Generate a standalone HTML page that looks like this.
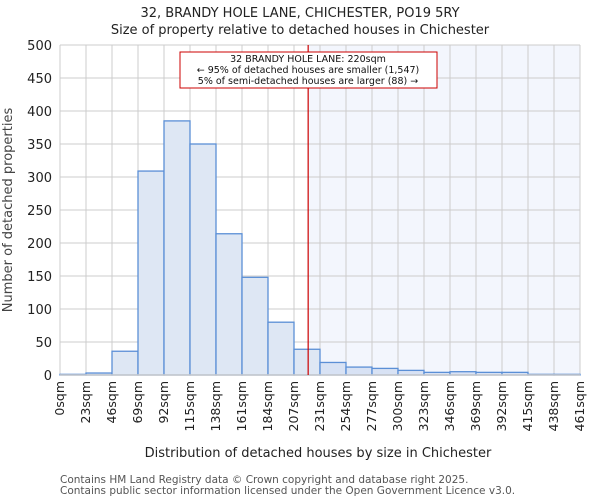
<!DOCTYPE html>
<html><head><meta charset="utf-8"><style>
body{margin:0;background:#fff;font-family:"DejaVu Sans","Liberation Sans",sans-serif}
</style></head><body>
<svg width="600" height="500" xmlns="http://www.w3.org/2000/svg" style="font-family:'DejaVu Sans','Liberation Sans',sans-serif">
<text x="300" y="17" text-anchor="middle" font-size="13" fill="#222">32, BRANDY HOLE LANE, CHICHESTER, PO19 5RY</text>
<text x="300" y="34" text-anchor="middle" font-size="13" fill="#222">Size of property relative to detached houses in Chichester</text>
<g id="plot"></g>
<text x="318" y="457" text-anchor="middle" font-size="13" fill="#222">Distribution of detached houses by size in Chichester</text>
<text transform="translate(12,210) rotate(-90)" text-anchor="middle" font-size="13" fill="#444">Number of detached properties</text>
<text x="60" y="483" font-size="10.5" fill="#555">Contains HM Land Registry data © Crown copyright and database right 2025.</text>
<text x="60" y="494" font-size="10.5" fill="#555">Contains public sector information licensed under the Open Government Licence v3.0.</text>
</svg>
<script>
const binEdges=[0,23,46,69,92,115,138,161,184,207,231,254,277,300,323,346,369,392,415,438,461];
const counts=[1,3,36,309,385,350,214,148,80,39,19,12,10,7,4,5,4,4,1,1];
const yTicks=[0,50,100,150,200,250,300,350,400,450,500];
const propertySize=220;
const xMax=461, yMax=500;
const L=60,R=580,T=45,B=375;
const NS="http://www.w3.org/2000/svg";
const g=document.getElementById('plot');
const xs=v=>L+v/xMax*(R-L);
const ys=v=>B-v/yMax*(B-T);
function mk(t,a){const e=document.createElementNS(NS,t);for(const k in a)e.setAttribute(k,a[k]);g.appendChild(e);return e;}
const bg=mk('rect',{x:xs(propertySize),y:T,width:R-xs(propertySize),height:B-T,fill:'#f3f6fd'});


yTicks.forEach(v=>{
 const l=mk('line',{x1:L,x2:R,y1:ys(v),y2:ys(v),stroke:'#ccc','stroke-width':1});
 
 
 const t=mk('text',{x:L-8,y:ys(v)+5,'text-anchor':'end','font-size':13,fill:'#222'});
 t.textContent=v;
 
 
});
binEdges.forEach((v,i)=>{
 const x=L+i*(R-L)/(binEdges.length-1);
 const l=mk('line',{x1:x,x2:x,y1:T,y2:B,stroke:'#ccc','stroke-width':1});
 
 
 const t=mk('text',{transform:`translate(${x+4},${B+6}) rotate(-90)`,'text-anchor':'end','font-size':12.5,fill:'#222'});
 t.textContent=v+'sqm';
 
 
});
counts.forEach((c,i)=>{
 const w=(R-L)/counts.length;
 const x=L+i*w;
 const r=mk('rect',{x:x,y:ys(c),width:w,height:B-ys(c),fill:binEdges[i]>=propertySize-10?'#d8e2f4':'#dee7f4',stroke:'#5b8fd6','stroke-width':1.3});
 
 
});
const ax=mk('line',{x1:L,x2:R,y1:B,y2:B,stroke:'#ccc','stroke-width':1.5});


const ml=mk('line',{x1:xs(propertySize),x2:xs(propertySize),y1:T,y2:B,stroke:'#c00','stroke-width':1.2});


const box=mk('rect',{x:180,y:52,width:257,height:36,fill:'#fff',stroke:'#c00','stroke-width':1});


['32 BRANDY HOLE LANE: 220sqm','← 95% of detached houses are smaller (1,547)','5% of semi-detached houses are larger (88) →'].forEach((s,i)=>{
 const t=mk('text',{x:308,y:62+i*11,'text-anchor':'middle','font-size':9.5,fill:'#111'});
 t.textContent=s;
 
 
});
</script>
</body></html>
